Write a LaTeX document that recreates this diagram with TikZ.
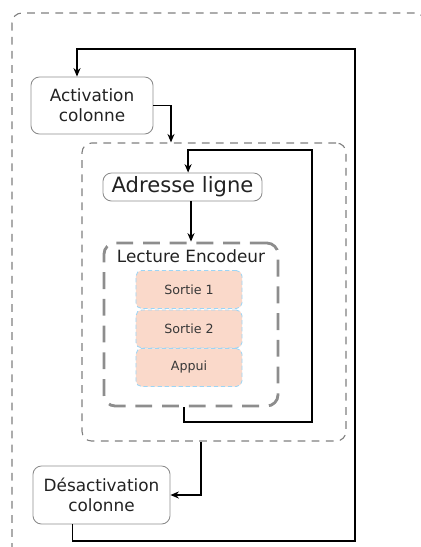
\documentclass[tikz,border=0pt]{standalone}
\usepackage{fontspec}
\setmainfont{DejaVu Sans}
\usetikzlibrary{arrows.meta}
\definecolor{trait}{HTML}{808080}
\definecolor{peche}{HTML}{FAD9CA}
\definecolor{ciel}{HTML}{9DD5F5}
\definecolor{texte}{HTML}{222222}

\begin{document}
\begin{tikzpicture}[x=0.025cm,y=-0.025cm,
    etape/.style={draw=trait!90, line width=0.6pt, rounded corners=6pt, align=center,
      text=texte, font=\fontsize{12}{14}\selectfont, inner sep=0pt},
    cadre/.style={draw=trait, line width=0.8pt, dash pattern=on 5.5pt off 4.5pt, rounded corners=7pt},
    lecture/.style={draw=trait!110!black, line width=2pt, dash pattern=on 12pt off 7pt, rounded corners=8pt},
    sortie/.style={fill=peche, draw=ciel, line width=0.6pt, dash pattern=on 3pt off 2pt,
      rounded corners=4pt, minimum width=2.65cm, minimum height=0.95cm,
      text=texte!90, font=\fontsize{9}{11}\selectfont},
    fleche/.style={draw=black, line width=1pt, -{Stealth[length=6pt,width=5pt]}}]
  \useasboundingbox (0,0) rectangle (421,547);

  % cadres en pointilles
  \draw[cadre] (12,13) rectangle (425,565);
  \node[cadre, minimum width=6.6cm, minimum height=7.45cm] (cycle) at (214,292) {};
  \node[lecture, minimum width=4.35cm, minimum height=4.075cm] (lecture) at (191,324.5) {};
  \node[text=texte, font=\fontsize{12}{14}\selectfont] (lectitre) at ([yshift=-0.375cm]lecture.north) {Lecture Encodeur};

  % etapes
  \node[etape, minimum width=3.05cm, minimum height=1.425cm] (activ) at (92,105.5) {Activation\\colonne};
  \node[etape, minimum width=3.975cm, minimum height=0.7cm, font=\fontsize{15}{17}\selectfont] (adresse) at (182.5,187) {Adresse ligne};
  \node[etape, minimum width=3.425cm, minimum height=1.45cm] (desact) at (101.5,495) {Désactivation\\colonne};

  \node[sortie] (sortie1) at (189,289.5) {Sortie 1};
  \node[sortie] (sortie2) at (189,329) {Sortie 2};
  \node[sortie] (appui) at (189,367.5) {Appui};

  % boucles
  \coordinate (colbas) at (355,541);
  \coordinate (colhaut) at (355,49);
  \coordinate (lignebas) at (312,422);
  \coordinate (lignehaut) at (312,150);

  \draw[fleche] ([xshift=1cm]desact.south west) |- (colbas) -- (colhaut) -| ([xshift=-0.375cm]activ.north);
  \draw[fleche] (activ.east) -| ([xshift=-1.075cm]cycle.north);
  \draw[fleche] ([xshift=-0.175cm]lecture.south) |- (lignebas) -- (lignehaut) -| ([xshift=0.14cm]adresse.north);
  \draw[fleche] (adresse.south -| lecture.north) -- (lecture.north);
  \draw[fleche] ([xshift=-0.325cm]cycle.south) |- (desact.east);
\end{tikzpicture}
\end{document}
